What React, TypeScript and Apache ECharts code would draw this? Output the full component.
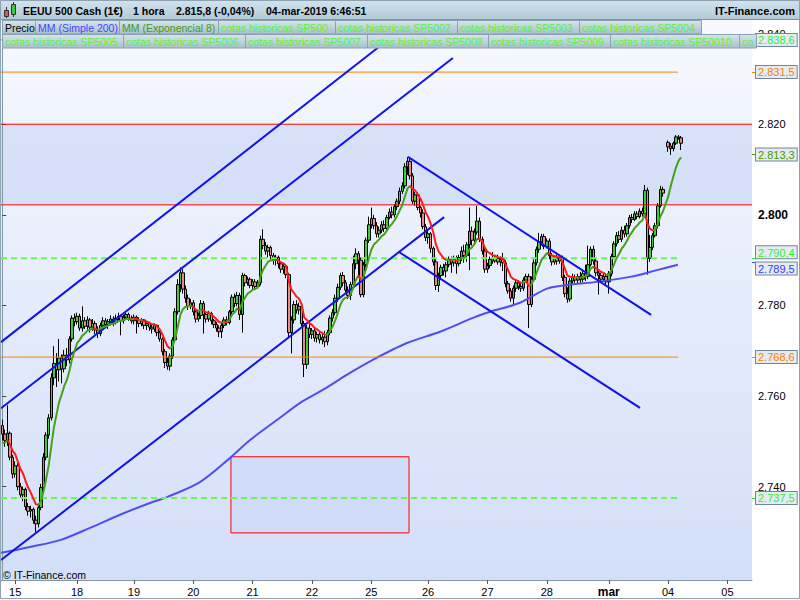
import React, { useEffect, useRef } from 'react';
import * as echarts from 'echarts';

const FONT = '"Liberation Sans", Arial, sans-serif';

// ---- sessions (day label under first hourly slot, number of hourly slots per day)
const sessionLabels = ['', '15', '18', '19', '20', '21', '22', '25', '26', '27', '28', 'mar', '04', '05'];
const sessionSlots = [5, 24, 22, 23, 23, 23, 23, 22, 23, 23, 24, 23, 23, 10];

// ---- hourly candles [open, close, low, high]
const feb14 = [
  [2753.5, 2751.6, 2750.2, 2754.8], [2751.6, 2750.2, 2748.8, 2752.6], [2750.2, 2751.8, 2749.0, 2758.0],
  [2751.8, 2746.5, 2745.8, 2752.2], [2746.5, 2742.8, 2741.8, 2747.0],
];
const feb15 = [
  [2742.8, 2744.6, 2742.0, 2745.6], [2744.6, 2740.0, 2739.2, 2745.2], [2740.0, 2738.2, 2737.6, 2740.8],
  [2738.2, 2739.4, 2736.8, 2740.0], [2739.4, 2735.6, 2734.8, 2739.8], [2735.6, 2734.6, 2733.6, 2736.4],
  [2734.6, 2735.0, 2733.2, 2735.8], [2735.0, 2732.6, 2731.8, 2735.4], [2732.6, 2731.8, 2730.0, 2733.6],
  [2731.8, 2735.4, 2731.0, 2735.8], [2735.4, 2739.8, 2734.8, 2740.6], [2739.8, 2746.5, 2739.2, 2747.4],
  [2746.5, 2751.4, 2745.8, 2752.0], [2751.4, 2755.2, 2750.6, 2756.0], [2755.2, 2764.0, 2754.6, 2765.0],
  [2764.0, 2767.2, 2762.4, 2771.0], [2767.2, 2765.8, 2762.0, 2769.5], [2765.8, 2768.4, 2763.2, 2772.6],
  [2768.4, 2766.0, 2762.8, 2769.2], [2766.0, 2769.0, 2765.2, 2770.2], [2769.0, 2768.0, 2766.6, 2770.6],
  [2768.0, 2772.6, 2767.2, 2773.2], [2772.6, 2777.2, 2772.0, 2777.8], [2777.2, 2776.4, 2775.4, 2778.2],
];
const feb18 = [
  [2776.4, 2777.6, 2775.8, 2778.4], [2777.6, 2775.0, 2774.4, 2778.2], [2775.0, 2776.6, 2774.2, 2779.8],
  [2776.6, 2775.4, 2774.8, 2777.4], [2775.4, 2776.8, 2774.6, 2777.6], [2776.8, 2775.2, 2774.0, 2777.2],
  [2775.2, 2776.0, 2774.4, 2777.0], [2776.0, 2774.6, 2773.6, 2776.6], [2774.6, 2773.8, 2772.8, 2775.4],
  [2773.8, 2775.6, 2773.2, 2776.2], [2775.6, 2776.6, 2775.0, 2777.4], [2776.6, 2775.8, 2775.0, 2777.2],
  [2775.8, 2776.4, 2774.8, 2777.0], [2776.4, 2777.0, 2775.6, 2777.8], [2777.0, 2776.2, 2775.4, 2777.6],
  [2776.2, 2777.2, 2775.8, 2778.0], [2777.2, 2777.6, 2776.6, 2778.4], [2777.6, 2776.6, 2773.4, 2778.0],
  [2776.6, 2777.4, 2776.0, 2778.0], [2777.4, 2778.0, 2776.8, 2778.6], [2778.0, 2777.2, 2776.6, 2778.4],
  [2777.2, 2776.6, 2776.0, 2777.8],
];
const feb19 = [
  [2776.6, 2777.4, 2775.8, 2778.0], [2777.4, 2776.8, 2773.8, 2777.8], [2776.8, 2776.0, 2775.2, 2777.4],
  [2776.0, 2776.8, 2775.4, 2777.2], [2776.8, 2775.6, 2774.8, 2777.0], [2775.6, 2776.0, 2774.6, 2776.6],
  [2776.0, 2775.2, 2774.4, 2776.4], [2775.2, 2774.8, 2773.8, 2775.8], [2774.8, 2775.6, 2774.2, 2776.0],
  [2775.6, 2774.0, 2773.2, 2775.8], [2774.0, 2772.6, 2772.0, 2774.4], [2772.6, 2769.8, 2769.0, 2773.0],
  [2769.8, 2767.4, 2766.2, 2770.4], [2767.4, 2766.6, 2765.8, 2768.6], [2766.6, 2768.8, 2765.6, 2769.4],
  [2768.8, 2772.4, 2768.2, 2773.0], [2772.4, 2778.6, 2771.8, 2779.4], [2778.6, 2784.6, 2778.0, 2785.8],
  [2784.6, 2787.2, 2783.0, 2788.4], [2787.2, 2783.6, 2782.6, 2788.0], [2783.6, 2781.6, 2780.6, 2784.4],
  [2781.6, 2779.8, 2779.0, 2782.4], [2779.8, 2780.6, 2779.2, 2781.4],
];
const feb20 = [
  [2780.6, 2778.6, 2777.8, 2781.2], [2778.6, 2777.0, 2776.2, 2779.2], [2777.0, 2777.8, 2776.4, 2778.4],
  [2777.8, 2780.4, 2777.0, 2781.2], [2780.4, 2778.0, 2773.8, 2781.0], [2778.0, 2777.0, 2776.2, 2778.6],
  [2777.0, 2778.2, 2776.4, 2778.8], [2778.2, 2776.6, 2775.8, 2778.6], [2776.6, 2775.8, 2775.0, 2777.0],
  [2775.8, 2775.0, 2774.2, 2776.4], [2775.0, 2774.2, 2773.0, 2775.6], [2774.2, 2775.6, 2772.8, 2776.2],
  [2775.6, 2776.8, 2775.0, 2777.4], [2776.8, 2776.2, 2775.6, 2777.6], [2776.2, 2778.6, 2775.8, 2779.0],
  [2778.6, 2781.8, 2778.0, 2782.4], [2781.8, 2780.4, 2779.6, 2782.6], [2780.4, 2782.2, 2779.8, 2783.0],
  [2782.2, 2778.0, 2776.8, 2782.8], [2778.0, 2786.6, 2774.0, 2787.2], [2786.6, 2785.0, 2784.2, 2787.0],
  [2785.0, 2785.8, 2784.4, 2786.4], [2785.8, 2784.4, 2783.8, 2786.2],
];
const feb21 = [
  [2784.4, 2785.2, 2783.6, 2785.8], [2785.2, 2784.2, 2783.4, 2785.8], [2784.2, 2785.0, 2783.8, 2785.6],
  [2785.0, 2794.6, 2784.4, 2795.4], [2794.6, 2793.2, 2792.4, 2796.8], [2793.2, 2792.0, 2791.2, 2794.0],
  [2792.0, 2792.8, 2790.6, 2793.4], [2792.8, 2791.0, 2790.2, 2793.2], [2791.0, 2790.0, 2789.0, 2791.6],
  [2790.0, 2790.6, 2788.8, 2791.2], [2790.6, 2789.2, 2788.2, 2791.0], [2789.2, 2788.0, 2787.2, 2789.8],
  [2788.0, 2788.6, 2787.0, 2789.2], [2788.6, 2786.8, 2786.0, 2789.0], [2786.8, 2774.0, 2773.0, 2787.2],
  [2774.0, 2776.8, 2769.4, 2777.6], [2776.8, 2780.2, 2776.0, 2781.0], [2780.2, 2779.0, 2778.2, 2781.2],
  [2779.0, 2779.8, 2778.0, 2780.6], [2779.8, 2776.0, 2775.4, 2780.4], [2776.0, 2767.0, 2764.2, 2776.6],
  [2767.0, 2775.0, 2766.0, 2775.8], [2775.0, 2773.6, 2772.8, 2776.0],
];
const feb22 = [
  [2773.6, 2774.4, 2772.6, 2775.0], [2774.4, 2772.8, 2772.0, 2775.0], [2772.8, 2773.6, 2771.8, 2774.2],
  [2773.6, 2772.4, 2771.6, 2774.2], [2772.4, 2773.0, 2771.4, 2774.0], [2773.0, 2772.0, 2770.8, 2774.4],
  [2772.0, 2774.0, 2771.2, 2774.6], [2774.0, 2777.2, 2773.4, 2777.8], [2777.2, 2778.4, 2776.4, 2779.2],
  [2778.4, 2781.6, 2777.8, 2782.4], [2781.6, 2784.0, 2780.8, 2784.8], [2784.0, 2786.6, 2783.4, 2787.2],
  [2786.6, 2785.0, 2784.2, 2787.4], [2785.0, 2783.4, 2782.8, 2785.6], [2783.4, 2782.2, 2781.4, 2784.2],
  [2782.2, 2784.6, 2781.2, 2785.2], [2784.6, 2789.2, 2784.0, 2791.0], [2789.2, 2791.4, 2788.0, 2792.6],
  [2791.4, 2790.0, 2786.4, 2792.0], [2790.0, 2782.4, 2781.8, 2790.6], [2782.4, 2789.0, 2781.8, 2789.6],
  [2789.0, 2794.4, 2788.4, 2795.0], [2794.4, 2797.8, 2793.8, 2799.6],
];
const feb25 = [
  [2797.8, 2799.2, 2797.0, 2801.6], [2799.2, 2797.6, 2796.8, 2800.0], [2797.6, 2795.8, 2795.0, 2798.4],
  [2795.8, 2796.6, 2795.0, 2797.4], [2796.6, 2797.8, 2796.0, 2798.6], [2797.8, 2797.0, 2796.2, 2798.8],
  [2797.0, 2799.4, 2796.4, 2800.0], [2799.4, 2800.6, 2799.0, 2801.4], [2800.6, 2800.0, 2799.2, 2801.8],
  [2800.0, 2801.8, 2799.4, 2802.4], [2801.8, 2803.0, 2801.0, 2803.6], [2803.0, 2805.2, 2802.4, 2806.0],
  [2805.2, 2806.4, 2804.6, 2807.2], [2806.4, 2810.6, 2805.8, 2811.4], [2810.6, 2811.8, 2808.8, 2812.8],
  [2811.8, 2808.6, 2807.8, 2812.4], [2808.6, 2803.0, 2802.4, 2809.2], [2803.0, 2804.4, 2802.0, 2805.0],
  [2804.4, 2801.6, 2801.0, 2805.0], [2801.6, 2800.4, 2799.4, 2802.0], [2800.4, 2797.4, 2796.8, 2801.2],
  [2797.4, 2795.0, 2794.2, 2798.0],
];
const feb26 = [
  [2795.0, 2795.8, 2793.6, 2796.6], [2795.8, 2792.6, 2791.6, 2796.2], [2792.6, 2789.6, 2788.8, 2793.0],
  [2789.6, 2784.4, 2783.4, 2790.2], [2784.4, 2786.6, 2783.0, 2787.2], [2786.6, 2788.4, 2785.8, 2789.0],
  [2788.4, 2787.6, 2786.6, 2789.2], [2787.6, 2789.0, 2786.2, 2789.6], [2789.0, 2790.2, 2788.4, 2790.8],
  [2790.2, 2789.4, 2787.2, 2790.8], [2789.4, 2790.4, 2788.6, 2791.0], [2790.4, 2789.2, 2787.0, 2791.0],
  [2789.2, 2790.6, 2788.6, 2791.2], [2790.6, 2792.0, 2789.8, 2793.0], [2792.0, 2791.0, 2789.4, 2793.4],
  [2791.0, 2793.4, 2789.6, 2794.0], [2793.4, 2796.4, 2787.8, 2801.6], [2796.4, 2794.4, 2793.2, 2797.4],
  [2794.4, 2796.2, 2793.6, 2797.0], [2796.2, 2798.6, 2795.6, 2802.0], [2798.6, 2794.6, 2794.0, 2799.4],
  [2794.6, 2792.0, 2791.2, 2795.2], [2792.0, 2788.0, 2787.2, 2792.6],
];
const feb27 = [
  [2788.0, 2788.8, 2787.2, 2789.4], [2788.8, 2790.2, 2788.2, 2790.8], [2790.2, 2789.8, 2789.2, 2791.8],
  [2789.8, 2790.4, 2789.4, 2791.0], [2790.4, 2789.6, 2789.0, 2791.2], [2789.6, 2790.2, 2788.6, 2790.8],
  [2790.2, 2789.4, 2787.6, 2791.6], [2789.4, 2784.8, 2784.0, 2790.0], [2784.8, 2783.2, 2782.6, 2785.4],
  [2783.2, 2781.6, 2780.8, 2783.8], [2781.6, 2783.8, 2780.0, 2784.4], [2783.8, 2785.0, 2783.0, 2785.6],
  [2785.0, 2784.2, 2783.4, 2785.6], [2784.2, 2783.8, 2783.0, 2785.0], [2783.8, 2785.6, 2783.2, 2786.2],
  [2785.6, 2786.4, 2785.0, 2787.0], [2786.4, 2780.2, 2775.0, 2787.0], [2780.2, 2785.8, 2779.6, 2786.4],
  [2785.8, 2789.4, 2785.2, 2790.2], [2789.4, 2792.4, 2788.8, 2793.0], [2792.4, 2794.0, 2791.6, 2796.0],
  [2794.0, 2795.2, 2793.2, 2795.8], [2795.2, 2793.0, 2792.4, 2795.8],
];
const feb28 = [
  [2793.0, 2794.2, 2792.6, 2794.8], [2794.2, 2791.0, 2790.2, 2794.8], [2791.0, 2789.6, 2788.8, 2791.6],
  [2789.6, 2790.4, 2789.0, 2791.0], [2790.4, 2789.8, 2789.0, 2791.2], [2789.8, 2790.6, 2789.2, 2791.2],
  [2790.6, 2786.2, 2785.4, 2791.0], [2786.2, 2782.6, 2781.8, 2786.8], [2782.6, 2781.4, 2780.6, 2784.0],
  [2781.4, 2785.4, 2780.8, 2786.0], [2785.4, 2786.2, 2784.8, 2787.0], [2786.2, 2785.6, 2785.0, 2786.8],
  [2785.6, 2786.4, 2784.8, 2787.0], [2786.4, 2785.8, 2785.0, 2787.4], [2785.8, 2787.0, 2785.2, 2787.6],
  [2787.0, 2786.4, 2785.4, 2789.0], [2786.4, 2789.0, 2785.8, 2793.2], [2789.0, 2792.4, 2788.6, 2793.0],
  [2792.4, 2789.8, 2789.0, 2793.2], [2789.8, 2787.2, 2786.4, 2790.4], [2787.2, 2786.6, 2782.4, 2787.8],
  [2786.6, 2785.8, 2785.0, 2787.2], [2785.8, 2786.4, 2785.2, 2787.0], [2786.4, 2785.2, 2784.4, 2787.0],
];
const mar01 = [
  [2785.2, 2787.0, 2782.6, 2787.6], [2787.0, 2790.8, 2786.4, 2791.4], [2790.8, 2793.6, 2790.2, 2794.2],
  [2793.6, 2795.4, 2793.0, 2796.2], [2795.4, 2794.6, 2793.8, 2796.4], [2794.6, 2796.6, 2794.0, 2797.4],
  [2796.6, 2795.8, 2795.0, 2797.6], [2795.8, 2797.6, 2795.2, 2798.2], [2797.6, 2799.4, 2797.0, 2800.0],
  [2799.4, 2799.0, 2798.2, 2800.2], [2799.0, 2800.2, 2798.6, 2800.8], [2800.2, 2799.6, 2799.0, 2800.8],
  [2799.6, 2800.8, 2799.2, 2801.4], [2800.8, 2800.2, 2799.6, 2801.6], [2800.2, 2805.4, 2799.8, 2806.6],
  [2805.4, 2790.4, 2786.8, 2806.0], [2790.4, 2792.8, 2789.6, 2795.6], [2792.8, 2795.4, 2792.2, 2796.0],
  [2795.4, 2797.6, 2795.0, 2798.2], [2797.6, 2802.0, 2797.0, 2802.6], [2802.0, 2805.6, 2801.6, 2806.4],
  [2805.6, 2804.8, 2804.0, 2806.2],
];
const mar04 = [
  [2816.0, 2815.0, 2813.9, 2816.4], [2815.2, 2814.6, 2813.2, 2815.8], [2814.6, 2815.8, 2814.0, 2816.2],
  [2815.8, 2817.2, 2815.4, 2817.6], [2817.2, 2817.0, 2816.6, 2817.6], [2817.0, 2815.8, 2814.3, 2817.4],
];
const mar05: number[][] = [];
const sessions = [feb14, feb15, feb18, feb19, feb20, feb21, feb22, feb25, feb26, feb27, feb28, mar01, mar04, mar05];

// ---- EMA 8 (computed from closes), starting value
const emaPeriod = 8;
const emaStart = 2749.0;

// ---- SMA 200: [slot, price]
const sma200Slots = [-0.5, 10.7, 22.4, 34.0, 45.6, 57.2, 63.8, 76.6, 88.2, 96.0, 107.6, 115.4, 124.3, 134.7, 143.6, 156.8, 169.6, 182.6, 189.1, 200.6, 211.1, 218.8, 230.4, 243.3, 253.7, 261.8];
const sma200Values = [2725.4, 2726.7, 2728.2, 2730.9, 2733.8, 2736.4, 2737.7, 2741.0, 2746.3, 2750.3, 2755.2, 2758.5, 2761.4, 2765.1, 2768.0, 2771.7, 2774.2, 2777.3, 2778.6, 2780.6, 2783.7, 2784.5, 2785.2, 2786.3, 2787.8, 2789.0];

// ---- drawn trend lines (slot, price) start -> end
const trendStartSlot = [-0.5, -0.5, -0.5, 157.2, 153.7];
const trendStartPrice = [2771.9, 2757.3, 2723.8, 2812.8, 2791.8];
const trendEndSlot = [146.0, 174.6, 171.2, 251.4, 247.1];
const trendEndPrice = [2837.1, 2834.6, 2799.5, 2777.9, 2757.4];

// ---- horizontal levels and zones
const dashedLevels = [2838.6, 2790.4, 2737.5];
const orangeLevels = [2831.5, 2768.6];
const levelEndSlot = 261.8;
const bandPrices = [2802.2, 2820.0];
const zoneSlots = [88.6, 157.6];
const zonePrices = [2729.8, 2746.6];

// ---- axis
const priceTicks = [2740, 2760, 2780, 2800, 2820, 2840];
const priceMin = 2719.4;
const priceMax = 2843.0;
const tagValues = [2838.6, 2831.5, 2813.3, 2790.4, 2789.5, 2768.6, 2737.5];
const tagTexts = ['2.838,6', '2.831,5', '2.813,3', '2.790,4', '2.789,5', '2.768,6', '2.737,5'];

// ---- texts
const headerTexts = ['EEUU 500 Cash (1€)', '1 hora', '2.815,8 (-0,04%)', '04-mar-2019 6:46:51'];
const legendRow1 = ['Precio', 'MM (Simple 200)', 'MM (Exponencial 8)', 'cotas historicas SP500', 'cotas historicas SP5002', 'cotas historicas SP5003', 'cotas historicas SP5004'];
const legendRow2 = ['cotas historicas SP5005', 'cotas historicas SP5006', 'cotas historicas SP5007', 'cotas historicas SP5008', 'cotas historicas SP5009', 'cotas historicas SP50010', 'cotas historicas SP50011'];

// ---- styles
const tagColors = ['#33ee33', '#ff8000', '#3d9a00', '#33ee33', '#3a3aff', '#ff8000', '#33ee33'];
const tagAlign = ['middle', 'middle', 'middle', 'bottom', 'top', 'middle', 'middle'];
const legendColors1 = ['#000000', '#4646ff', '#3f9a1a', '#55f533', '#55f533', '#55f533', '#55f533'];
const row1X = [2, 35, 119, 218, 335, 457, 579, 701];
const row2X = [2, 123, 245, 367, 488, 610, 739, 756];
const headerX = [23, 133, 176, 266];
const EMA_UP = '#45a11a';
const EMA_DOWN = '#ff1a1a';
const TREND = '#1010f0';
const AXIS = '#8196a6';

function buildOption() {
  const categories: string[] = [];
  const slotLabel: string[] = [];
  const candleData: number[][] = [];
  let base = 0;
  sessionSlots.forEach((n, d) => {
    for (let k = 0; k < n; k++) {
      categories.push('s' + (base + k));
      slotLabel.push(k === 0 ? sessionLabels[d] : '');
    }
    sessions[d].forEach((c, k) => candleData.push([base + k, c[0], c[1], c[2], c[3]]));
    base += n;
  });
  const totalSlots = base;

  const kk = 2 / (emaPeriod + 1);
  let e = emaStart;
  const ema = candleData.map((d) => {
    e = d[2] * kk + e * (1 - kk);
    return [d[0], +e.toFixed(2)];
  });
  const pieces: any[] = [];
  for (let j = 1; j < ema.length; j++) {
    const color = ema[j][1] >= ema[j - 1][1] ? EMA_UP : EMA_DOWN;
    const last = pieces[pieces.length - 1];
    if (last && last.color === color) last.lte = ema[j][0];
    else pieces.push({ gt: ema[j - 1][0], lte: ema[j][0], color });
  }
  if (pieces.length) { pieces[0].gte = -10; delete pieces[0].gt; }

  const series: any[] = [];
  const lineBase = { type: 'line', xAxisIndex: 1, yAxisIndex: 0, showSymbol: false, symbol: 'none', silent: true, animation: false };

  // shaded band and zone (fills only)
  series.push({
    type: 'custom', xAxisIndex: 1, yAxisIndex: 0, z: 1, silent: true, clip: true,
    data: [[-0.5, totalSlots - 0.5, bandPrices[0], bandPrices[1], 0], [zoneSlots[0], zoneSlots[1], zonePrices[0], zonePrices[1], 1]],
    encode: { x: [0, 1], y: [2, 3] },
    renderItem: (_p: any, api: any) => {
      const a = api.coord([api.value(0), api.value(3)]);
      const b = api.coord([api.value(1), api.value(2)]);
      const zone = api.value(4) === 1;
      return {
        type: 'rect',
        shape: { x: a[0], y: a[1], width: b[0] - a[0], height: b[1] - a[1] },
        style: { fill: zone ? '#d0dbf8' : 'rgba(180,200,243,0.42)', stroke: null, lineWidth: 0 },
      };
    },
  });

  series.push({
    type: 'candlestick', xAxisIndex: 0, yAxisIndex: 0, z: 2, barWidth: 3,
    data: candleData, encode: { x: 0, y: [1, 2, 3, 4] },
    itemStyle: { color: '#3ccc3c', color0: '#ec8888', borderColor: '#000', borderColor0: '#000', borderWidth: 1 },
  });

  // zone border
  series.push({ ...lineBase, z: 2, data: [
    [zoneSlots[0], zonePrices[1]], [zoneSlots[1], zonePrices[1]], [zoneSlots[1], zonePrices[0]],
    [zoneSlots[0], zonePrices[0]], [zoneSlots[0], zonePrices[1]],
  ], lineStyle: { color: '#ff0000', width: 1 } });

  series.push({ ...lineBase, z: 3, smooth: 0.3, data: sma200Slots.map((s, i) => [s, sma200Values[i]]), lineStyle: { color: '#4f4ff0', width: 2 } });

  bandPrices.forEach((p) => series.push({ ...lineBase, z: 3, data: [[-0.5, p], [totalSlots - 0.5, p]], lineStyle: { color: '#ff0000', width: 1 } }));
  orangeLevels.forEach((p) => series.push({ ...lineBase, z: 3, data: [[-0.5, p], [levelEndSlot, p]], lineStyle: { color: '#ff8000', width: 1 } }));
  dashedLevels.forEach((p) => series.push({ ...lineBase, z: 3, data: [[-0.5, p], [levelEndSlot, p]], lineStyle: { color: '#66f855', width: 2, type: [6, 4] } }));
  trendStartSlot.forEach((s, i) => series.push({ ...lineBase, z: 4, data: [[s, trendStartPrice[i]], [trendEndSlot[i], trendEndPrice[i]]], lineStyle: { color: TREND, width: 2 } }));

  const emaIndex = series.length;
  series.push({ type: 'line', xAxisIndex: 0, yAxisIndex: 0, z: 5, showSymbol: false, symbol: 'none', silent: true, data: ema, lineStyle: { width: 2 } });

  const labelFn = (i: number) => slotLabel[i] !== '';

  const yAxes: any[] = [{
    type: 'value', position: 'right', min: priceMin, max: priceMax, z: 1,
    axisLine: { show: true, lineStyle: { color: AXIS } },
    axisTick: { show: true, length: 4, customValues: priceTicks, lineStyle: { color: '#444' } },
    splitLine: { show: false },
    axisLabel: {
      customValues: priceTicks, margin: 6, color: '#000', fontSize: 11, fontFamily: FONT,
      formatter: (v: number) => {
        const s = String(Math.round(v));
        const t = s[0] + '.' + s.slice(1);
        return Math.round(v) === 2800 ? '{b|' + t + '}' : t;
      },
      rich: { b: { fontWeight: 'bold', fontSize: 12, color: '#000', fontFamily: FONT } },
    },
  }];
  tagValues.forEach((v, j) => {
    yAxes.push({
      type: 'value', position: 'right', min: priceMin, max: priceMax, z: 3,
      axisLine: { show: false },
      axisTick: { show: true, length: 4, customValues: [v], lineStyle: { color: tagColors[j] } },
      splitLine: { show: false },
      axisLabel: {
        customValues: [v], margin: 4, verticalAlign: tagAlign[j], formatter: () => tagTexts[j],
        color: tagColors[j], fontSize: 11, fontFamily: FONT,
        backgroundColor: '#e4ebf1', borderColor: '#6f8798', borderWidth: 1, padding: [1, 2, 0, 2],
      },
    });
  });

  const graphic: any[] = [];
  graphic.push({ type: 'rect', z: 100, silent: true, shape: { x: 0, y: 0, width: 800, height: 19 },
    style: { fill: new echarts.graphic.LinearGradient(0, 0, 0, 1, [{ offset: 0, color: '#d3e3ec' }, { offset: 1, color: '#b3cbd8' }]) } });
  graphic.push({ type: 'line', z: 100, silent: true, shape: { x1: 0, y1: 19.5, x2: 800, y2: 19.5 }, style: { stroke: '#7d93a2', lineWidth: 1 } });
  // icon
  graphic.push({ type: 'line', z: 101, silent: true, shape: { x1: 6.5, y1: 7, x2: 6.5, y2: 18 }, style: { stroke: '#333', lineWidth: 1 } });
  graphic.push({ type: 'rect', z: 102, silent: true, shape: { x: 4.5, y: 10.5, width: 4, height: 6 }, style: { fill: '#e85050', stroke: '#333', lineWidth: 1 } });
  graphic.push({ type: 'line', z: 101, silent: true, shape: { x1: 13.5, y1: 2, x2: 13.5, y2: 17 }, style: { stroke: '#333', lineWidth: 1 } });
  graphic.push({ type: 'rect', z: 102, silent: true, shape: { x: 11.5, y: 4.5, width: 4, height: 10 }, style: { fill: '#3cc83c', stroke: '#333', lineWidth: 1 } });
  headerTexts.forEach((t, i) => graphic.push({ type: 'text', z: 101, silent: true, x: headerX[i], y: 10.5,
    style: { text: t, fill: '#000', font: 'bold 10.5px ' + FONT, verticalAlign: 'middle' } }));
  graphic.push({ type: 'text', z: 101, silent: true, x: 795, y: 10.5,
    style: { text: 'IT-Finance.com', fill: '#000', font: 'bold 11px ' + FONT, align: 'right', verticalAlign: 'middle' } });

  const legendFill = () => new echarts.graphic.LinearGradient(0, 0, 0, 1, [{ offset: 0, color: '#d6e4ec' }, { offset: 1, color: '#a9c0cd' }]);
  const drawRow = (texts: string[], xs: number[], y: number, h: number, colors: string[], truncateLast: boolean) => {
    texts.forEach((t, i) => {
      const x0 = xs[i];
      const x1 = xs[i + 1];
      graphic.push({ type: 'rect', z: 100, silent: true, shape: { x: x0 + 0.5, y: y + 0.5, width: x1 - x0, height: h },
        style: { fill: legendFill(), stroke: '#8aa1af', lineWidth: 1 } });
      const cut = truncateLast && i === texts.length - 1;
      graphic.push({ type: 'text', z: 101, silent: true, x: x0 + 3, y: y + h / 2 + 1,
        style: { text: cut ? 'co' : t, fill: colors[i], font: '10.5px ' + FONT, verticalAlign: 'middle' } });
    });
  };
  drawRow(legendRow1, row1X, 20, 13.5, legendColors1, false);
  drawRow(legendRow2, row2X, 34, 13.5, legendRow2.map(() => '#55f533'), true);

  graphic.push({ type: 'text', z: 101, silent: true, x: 3, y: 574.5,
    style: { text: '© IT-Finance.com', fill: '#000', font: '10.5px ' + FONT, verticalAlign: 'middle' } });
  graphic.push({ type: 'rect', z: 110, silent: true, shape: { x: 0.5, y: 0.5, width: 799, height: 598 },
    style: { fill: 'none', stroke: '#8ea3b2', lineWidth: 1 } });

  return {
    animation: false,
    textStyle: { fontFamily: FONT },
    grid: {
      left: 1, right: 48, top: 20, bottom: 20, show: true, borderWidth: 0, containLabel: false, outerBoundsMode: 'none',
      backgroundColor: new echarts.graphic.LinearGradient(0, 0, 0, 1, [{ offset: 0, color: '#f7f9fe' }, { offset: 1, color: '#d3dff9' }]),
    },
    xAxis: [
      {
        type: 'category', data: categories, boundaryGap: true,
        axisLine: { show: true, lineStyle: { color: AXIS } },
        axisTick: { show: true, alignWithLabel: true, interval: labelFn, length: 4, lineStyle: { color: '#555' } },
        axisLabel: {
          interval: labelFn, margin: 6, color: '#000', fontSize: 11, fontFamily: FONT,
          formatter: (_v: string, i: number) => (slotLabel[i] === 'mar' ? '{b|mar}' : slotLabel[i]),
          rich: { b: { fontWeight: 'bold', fontSize: 12, color: '#000', fontFamily: FONT } },
        },
        splitLine: { show: false },
      },
      { type: 'value', min: -0.5, max: totalSlots - 0.5, show: false },
    ],
    yAxis: yAxes,
    visualMap: [{ type: 'piecewise', show: false, dimension: 0, seriesIndex: emaIndex, pieces, outOfRange: { color: EMA_UP } }],
    series,
    graphic,
  };
}

export default function App() {
  const ref = useRef<HTMLDivElement>(null);
  useEffect(() => {
    if (!ref.current) return;
    const chart = echarts.init(ref.current, null, { renderer: 'svg' });
    chart.setOption(buildOption() as any);
    return () => chart.dispose();
  }, []);
  return <div ref={ref} style={{ position: 'fixed', left: 0, top: 0, width: 800, height: 600, background: '#ffffff' }} />;
}
